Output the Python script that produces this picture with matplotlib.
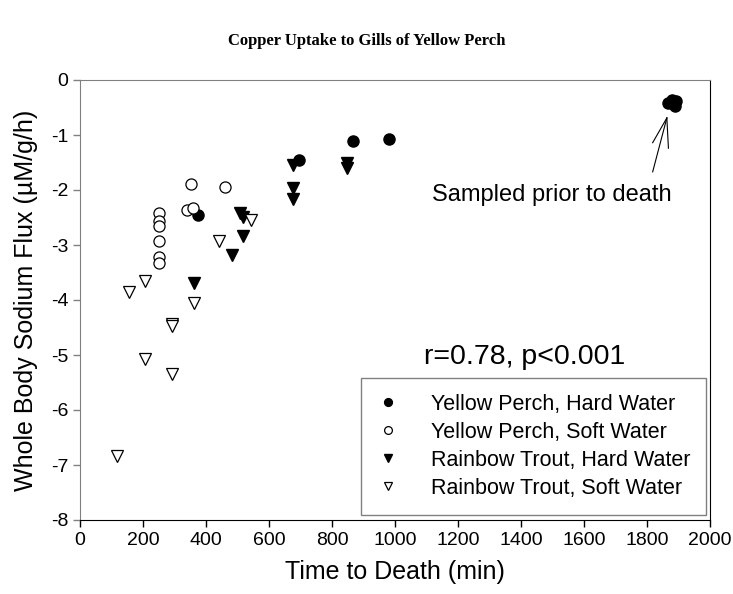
import matplotlib
matplotlib.use('Agg')
import matplotlib.pyplot as plt

plt.rcParams['font.family'] = ['Liberation Sans', 'DejaVu Sans']
plt.rcParams['axes.unicode_minus'] = False

# yellow perch, hard water (filled circles)
yp_hard_t    = [375, 696, 868, 982, 1866, 1880, 1893, 1890]
yp_hard_flux = [-2.45, -1.46, -1.11, -1.07, -0.42, -0.36, -0.38, -0.48]

# yellow perch, soft water (open circles)
yp_soft_t    = [252, 252, 252, 252, 252, 252, 341, 360, 351, 459]
yp_soft_flux = [-2.42, -2.56, -2.66, -2.92, -3.21, -3.32, -2.36, -2.32, -1.89, -1.95]

# rainbow trout, hard water (filled triangles)
rt_hard_t    = [363, 484, 519, 508, 519, 677, 677, 677, 849, 849]
rt_hard_flux = [-3.69, -3.19, -2.84, -2.42, -2.49, -1.54, -1.96, -2.17, -1.51, -1.60]

# rainbow trout, soft water (open triangles)
rt_soft_t    = [155, 207, 362, 291, 291, 207, 291, 118, 442, 544]
rt_soft_flux = [-3.85, -3.65, -4.05, -4.43, -4.48, -5.07, -5.35, -6.84, -2.93, -2.54]

labels = ['Yellow Perch, Hard Water',
          'Yellow Perch, Soft Water',
          'Rainbow Trout, Hard Water',
          'Rainbow Trout, Soft Water']

fig = plt.figure(figsize=(7.33, 5.94), dpi=100)
ax = fig.add_axes([80/733, 1-520/594, 630/733, 440/594])

ms = 8
ax.plot(yp_hard_t, yp_hard_flux, 'o', ms=ms, mfc='black', mec='black', mew=1, label=labels[0])
ax.plot(yp_soft_t, yp_soft_flux, 'o', ms=ms, mfc='white', mec='black', mew=0.9, label=labels[1])
ax.plot(rt_hard_t, rt_hard_flux, 'v', ms=ms+1, mfc='black', mec='black', mew=1, label=labels[2])
ax.plot(rt_soft_t, rt_soft_flux, 'v', ms=ms+1, mfc='white', mec='black', mew=0.9, label=labels[3])

ax.set_xlim(0, 2000)
ax.set_ylim(-8, 0)
ax.set_xticks(range(0, 2001, 200))
ax.set_yticks(range(-8, 1))
ax.tick_params(labelsize=14, direction='out', length=5, width=1)
ax.tick_params(axis='y', colors='#808080', labelcolor='black')

ax.spines['left'].set_color('#808080')
ax.spines['top'].set_color('#808080')
ax.spines['bottom'].set_color('black')
ax.spines['right'].set_color('black')

ax.set_xlabel('Time to Death (min)', fontsize=18, labelpad=8)
ax.set_ylabel('Whole Body Sodium Flux (\u00b5M/g/h)', fontsize=18, labelpad=9)

fig.text(0.5, 1-41/594, 'Copper Uptake to Gills of Yellow Perch', ha='center', va='center',
         fontsize=12, fontweight='bold', family='Liberation Serif')

# lines pointing at the sampled fish
tip = (1863, -0.69)
for sx, sy in [(1818, -1.14), (1818, -1.67), (1868, -1.24)]:
    ax.plot([sx, tip[0]], [sy, tip[1]], color='black', lw=0.8)

ax.text(1498, -2.09, 'Sampled prior to death', fontsize=17, ha='center', va='center')
ax.text(1410, -5.03, 'r=0.78, p<0.001', fontsize=20.5, ha='center', va='center')

leg = ax.legend(loc='lower right', bbox_to_anchor=(0.994, 0.012), fontsize=15.5,
                markerscale=0.7, frameon=True, fancybox=False, edgecolor='#606060',
                borderpad=0.75, labelspacing=0.32, handlelength=1.0, handletextpad=1.5,
                borderaxespad=0)
leg.get_frame().set_linewidth(1)

fig.savefig('out.png', dpi=100)
